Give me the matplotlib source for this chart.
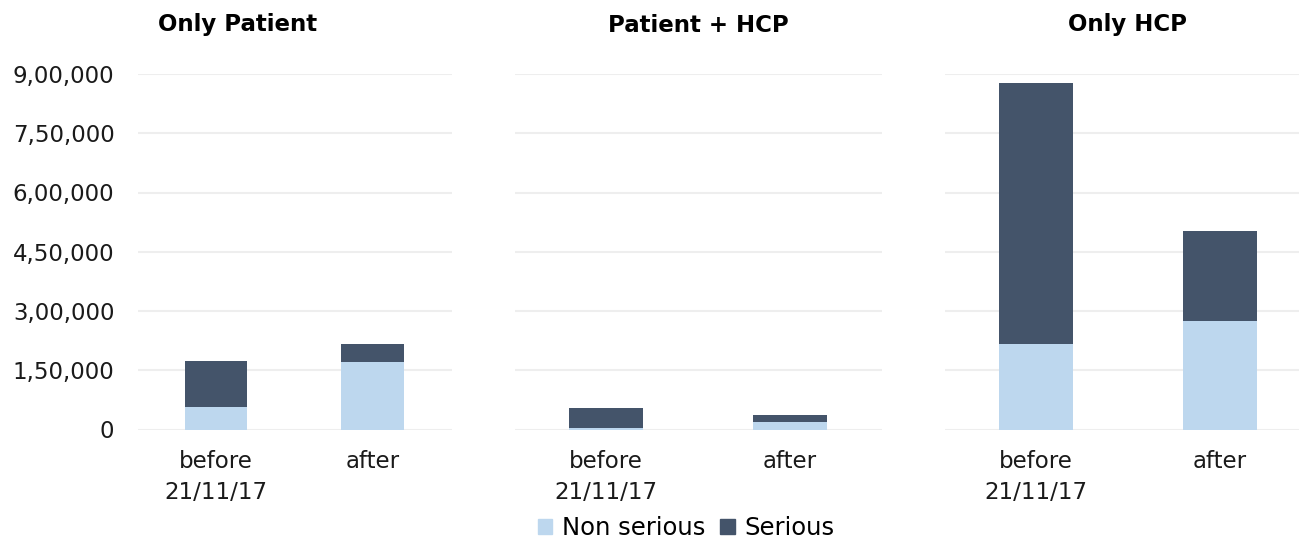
import matplotlib.pyplot as plt
from matplotlib.patches import Patch
from matplotlib.ticker import FuncFormatter

# data
panels = ["Only Patient", "Patient + HCP", "Only HCP"]
periods = ["before\n21/11/17", "after"]
non_serious = [[55700, 170300], [4300, 19500], [215700, 274700]]
serious_total = [[172800, 215800], [54000, 37200], [877200, 503200]]
serious = [[t - n for t, n in zip(ts, ns)] for ts, ns in zip(serious_total, non_serious)]

light = "#BDD7EE"
dark = "#44546A"
grid_col = "#EEEEEE"


def indian_fmt(v, pos):
    v = int(round(v))
    if v == 0:
        return "0"
    s = str(v)
    last3 = s[-3:]
    rest = s[:-3]
    parts = []
    while len(rest) > 2:
        parts.insert(0, rest[-2:])
        rest = rest[:-2]
    if rest:
        parts.insert(0, rest)
    return ",".join(parts + [last3])


W, H = 1299, 539
fig = plt.figure(figsize=(W / 100, H / 100), dpi=100)

# axes boxes in pixels: (left, right), plus x limits so bar centres line up
boxes = [(138, 452), (515, 882), (945, 1299)]
xlims = [(-0.5, 1.51), (-0.495, 1.5), (-0.495, 1.43)]
title_x = [238, 698, 1128]
top_px, bot_px = 74, 429.5

for i, name in enumerate(panels):
    l, r = boxes[i]
    ax = fig.add_axes([l / W, 1 - bot_px / H, (r - l) / W, (bot_px - top_px) / H])
    x = range(len(periods))
    ax.bar(x, non_serious[i], width=0.4, color=light, zorder=3)
    ax.bar(x, serious[i], width=0.4, bottom=non_serious[i], color=dark, zorder=3)
    ax.set_ylim(0, 900000)
    ax.set_xlim(*xlims[i])
    ax.set_yticks(range(0, 900001, 150000))
    ax.yaxis.set_major_formatter(FuncFormatter(indian_fmt))
    ax.grid(axis="y", color=grid_col, lw=1.5, zorder=0)
    ax.set_axisbelow(True)
    for s in ax.spines.values():
        s.set_visible(False)
    ax.set_xticks(list(x))
    ax.set_xticklabels(periods, fontsize=16.5, color="#1a1a1a", linespacing=1.45)
    ax.tick_params(axis="both", length=0, labelsize=16.5, colors="#1a1a1a")
    ax.tick_params(axis="x", pad=15)
    ax.tick_params(axis="y", pad=17)
    if i > 0:
        ax.tick_params(axis="y", labelleft=False)
    fig.text(title_x[i] / W, 1 - 25 / H, name, ha="center", va="center",
             fontsize=16.5, fontweight="bold")

handles = [Patch(color=light, label="Non serious"), Patch(color=dark, label="Serious")]
fig.legend(handles=handles, loc="center", bbox_to_anchor=(686 / W, 1 - 528 / H),
           ncol=2, frameon=False, fontsize=17.5, handlelength=0.6, handleheight=0.6,
           handletextpad=0.4, columnspacing=0.6, borderpad=0)

fig.savefig("out.png", dpi=100)
